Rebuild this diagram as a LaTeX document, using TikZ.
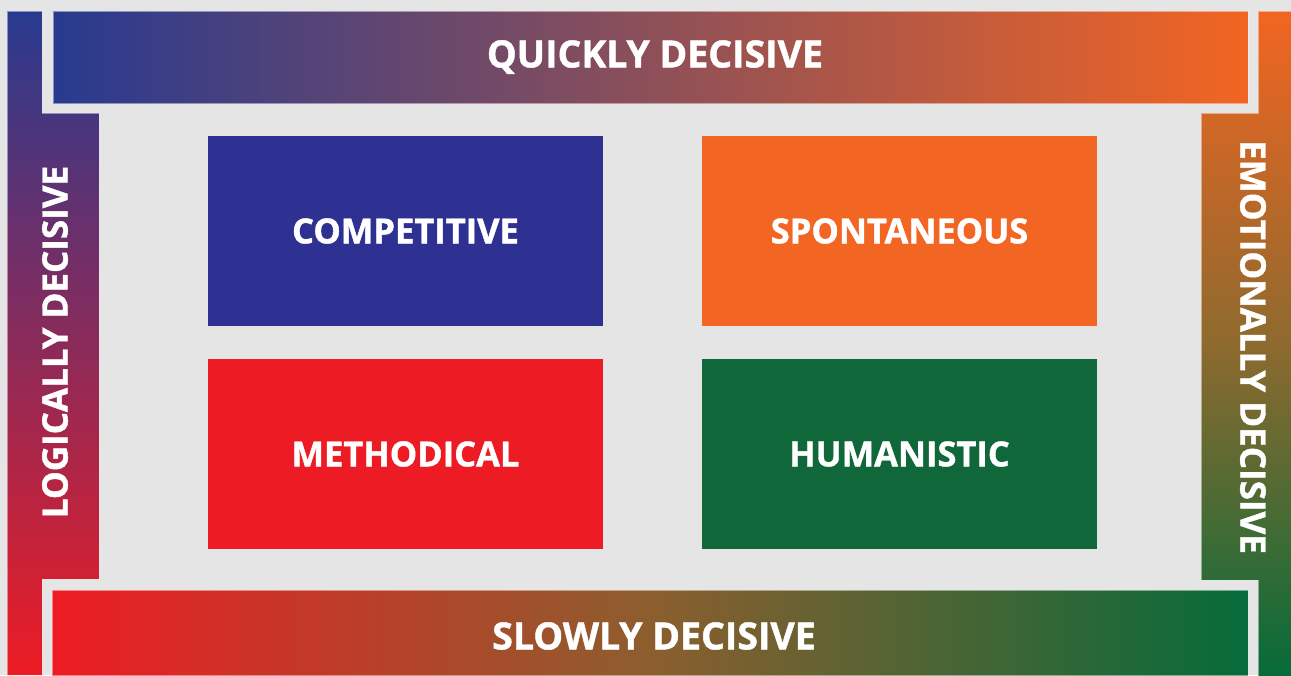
\documentclass[tikz,border=0pt]{standalone}
\usepackage{fontspec}
\setmainfont{Open Sans}[BoldFeatures={FakeBold=1.2}]
\definecolor{cblue}{HTML}{2E3192}
\definecolor{gblue}{HTML}{283A8F}
\definecolor{corange}{HTML}{F26522}
\definecolor{cred}{HTML}{ED1C24}
\definecolor{cgreen}{HTML}{10683A}
\definecolor{ggreen}{HTML}{066B3A}
\definecolor{midbot}{HTML}{8C5E2E}
\definecolor{midright}{HTML}{8E6A2E}
\definecolor{bg}{HTML}{E5E5E5}
\tikzset{
  box/.style={draw=none, inner sep=0pt, minimum width=395pt, minimum height=190pt, text=white, font=\fontsize{34.5}{38}\selectfont\bfseries},
  lbl/.style={text=white, inner sep=0pt, font=\fontsize{37.5}{40}\selectfont\bfseries},
  slbl/.style={text=white, inner sep=0pt, font=\fontsize{35}{40}\selectfont\bfseries},
  rim/.style={draw=white, draw opacity=0.45, line width=0.7pt}
}
\begin{document}
\begin{tikzpicture}[x=1pt,y=-1pt]
\useasboundingbox (0,0) rectangle (1291,675);
\fill[bg] (0,0) rectangle (1291,675);
% top bar
\shade[rim, left color=gblue, right color=corange] (53,11) rectangle (1248,103);
\node[lbl] (top) at (655,57) {QUICKLY DECISIVE};
% bottom bar
\shade[rim, left color=cred, right color=ggreen, middle color=midbot] (52,590) rectangle (1248,675);
\node[lbl] (bot) at (654,636) {SLOWLY DECISIVE};
% left bar
\shade[rim, top color=gblue, bottom color=cred] (7,11) -- (42,11) -- (42,113) -- (99,113) -- (99,579) -- (42,579) -- (42,675) -- (7,675) -- cycle;
\node[slbl, rotate=90] (left) at (55,342) {LOGICALLY DECISIVE};
% right bar
\shade[rim, top color=corange, bottom color=ggreen, middle color=midright] (1258,11) -- (1292,11) -- (1292,676) -- (1258,676) -- (1258,580) -- (1201,580) -- (1201,113) -- (1258,113) -- cycle;
\node[slbl, rotate=-90] (right) at (1253,347) {EMOTIONALLY DECISIVE};
% boxes
\node[box, fill=cblue] (comp) at (405.5,231) {COMPETITIVE};
\node[box, fill=corange] (spon) at (899.5,231) {SPONTANEOUS};
\node[box, fill=cred] (meth) at (405.5,454) {METHODICAL};
\node[box, fill=cgreen] (hum) at (899.5,454) {HUMANISTIC};
\end{tikzpicture}
\end{document}
